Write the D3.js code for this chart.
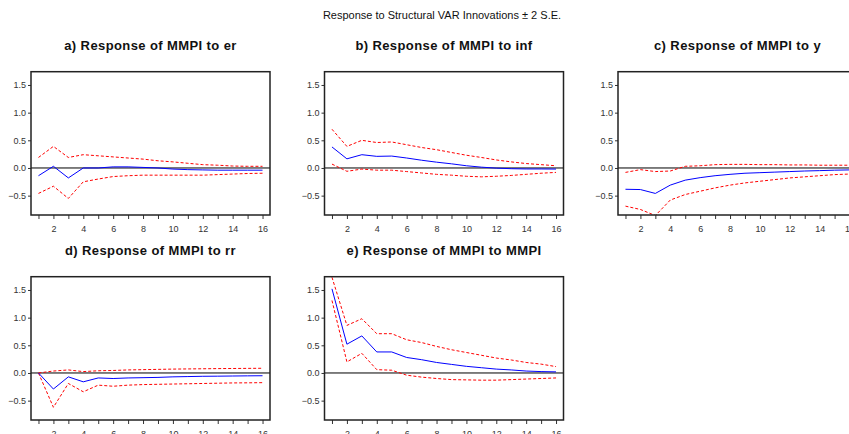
<!DOCTYPE html>
<html>
<head>
<meta charset="utf-8">
<script src="https://cdn.jsdelivr.net/npm/d3@7"></script>
<style>
    body { margin: 0; background: #fff; }
    svg { display: block; font-family: "Liberation Sans", Arial, sans-serif; }
    .tick text { fill: #333; font-size: 9px; }
    .tick line { stroke: #333; }
</style>
</head>
<body>
<svg id="chart" width="849" height="434"></svg>
<script>
const periods = d3.range(1, 17);
const yTicks = [-0.5, 0, 0.5, 1.0, 1.5];

const titles = [
    'a) Response of MMPI to er',
    'b) Response of MMPI to inf',
    'c) Response of MMPI to y',
    'd) Response of MMPI to rr',
    'e) Response of MMPI to MMPI'
];

// impulse responses (blue) and the +/- 2 S.E. bands (red dashed)
const erResp = [-0.14, 0.03, -0.18, 0.0, 0.0, 0.02, 0.02, 0.01, 0.0, -0.02, -0.03, -0.035, -0.04, -0.04, -0.04, -0.04];
const erUpper = [0.19, 0.39, 0.19, 0.24, 0.22, 0.2, 0.18, 0.16, 0.13, 0.11, 0.085, 0.06, 0.05, 0.035, 0.03, 0.03];
const erLower = [-0.46, -0.33, -0.55, -0.25, -0.2, -0.155, -0.14, -0.13, -0.13, -0.13, -0.13, -0.13, -0.12, -0.11, -0.1, -0.095];

const infResp = [0.38, 0.165, 0.24, 0.21, 0.215, 0.18, 0.14, 0.105, 0.075, 0.04, 0.015, -0.003, -0.013, -0.018, -0.018, -0.02];
const infUpper = [0.7, 0.39, 0.5, 0.46, 0.47, 0.42, 0.37, 0.33, 0.28, 0.23, 0.19, 0.145, 0.11, 0.08, 0.06, 0.04];
const infLower = [0.07, -0.06, -0.02, -0.04, -0.04, -0.065, -0.09, -0.115, -0.13, -0.15, -0.16, -0.15, -0.135, -0.115, -0.095, -0.08];

const yResp = [-0.385, -0.39, -0.46, -0.31, -0.22, -0.175, -0.14, -0.115, -0.095, -0.085, -0.075, -0.065, -0.055, -0.048, -0.04, -0.035];
const yUpper = [-0.08, -0.03, -0.065, -0.055, 0.03, 0.04, 0.06, 0.065, 0.065, 0.06, 0.06, 0.055, 0.055, 0.05, 0.05, 0.05];
const yLower = [-0.69, -0.75, -0.86, -0.58, -0.48, -0.42, -0.36, -0.31, -0.27, -0.24, -0.21, -0.18, -0.16, -0.14, -0.12, -0.11];

const rrResp = [0.0, -0.29, -0.07, -0.16, -0.09, -0.1, -0.09, -0.085, -0.08, -0.07, -0.065, -0.06, -0.058, -0.055, -0.052, -0.05];
const rrUpper = [0.0, 0.035, 0.055, 0.025, 0.04, 0.045, 0.055, 0.06, 0.065, 0.07, 0.073, 0.076, 0.079, 0.081, 0.083, 0.085];
const rrLower = [0.0, -0.62, -0.19, -0.34, -0.22, -0.24, -0.22, -0.21, -0.205, -0.2, -0.195, -0.19, -0.185, -0.18, -0.178, -0.175];

const mmpiResp = [1.52, 0.52, 0.67, 0.38, 0.38, 0.28, 0.24, 0.19, 0.155, 0.12, 0.095, 0.07, 0.055, 0.035, 0.025, 0.02];
const mmpiUpper = [1.73, 0.86, 0.98, 0.71, 0.71, 0.6, 0.55, 0.48, 0.42, 0.37, 0.32, 0.27, 0.235, 0.19, 0.16, 0.115];
const mmpiLower = [1.31, 0.2, 0.355, 0.06, 0.05, -0.04, -0.075, -0.1, -0.12, -0.125, -0.13, -0.13, -0.12, -0.11, -0.1, -0.09];

const panels = [
    { resp: erResp, upper: erUpper, lower: erLower },
    { resp: infResp, upper: infUpper, lower: infLower },
    { resp: yResp, upper: yUpper, lower: yLower },
    { resp: rrResp, upper: rrUpper, lower: rrLower },
    { resp: mmpiResp, upper: mmpiUpper, lower: mmpiLower }
];

const svg = d3.select('#chart');

const params = {
    colLeft: [31, 324.5, 618],
    rowTop: [71.7, 276.7],
    width: 239,
    height: 143.3
};

svg.append('text')
    .attr('x', 442)
    .attr('y', 19)
    .attr('text-anchor', 'middle')
    .attr('font-size', 11)
    .attr('fill', '#111')
    .text('Response to Structural VAR Innovations \u00b1 2 S.E.');

const x = d3.scaleLinear().domain([0.5, 16.5]).range([0, params.width]);
const y = d3.scaleLinear().domain([-0.85, 1.74]).range([params.height, 0]);

const line = d3.line()
    .x((d, i) => x(periods[i]))
    .y(d => y(d));

panels.forEach((p, k) => {
    const left = params.colLeft[k % 3];
    const top = params.rowTop[Math.floor(k / 3)];

    const g = svg.append('g')
        .attr('transform', `translate(${left},${top})`);

    g.append('text')
        .attr('x', params.width / 2)
        .attr('y', -22)
        .attr('text-anchor', 'middle')
        .attr('font-size', 13)
        .attr('font-weight', 'bold')
        .attr('letter-spacing', 0.4)
        .attr('fill', '#111')
        .text(titles[k]);

    g.append('clipPath')
        .attr('id', `clip${k}`)
        .append('rect')
        .attr('width', params.width)
        .attr('height', params.height);

    const yAxis = g.append('g')
        .call(d3.axisLeft(y).tickValues(yTicks).tickSize(3).tickPadding(2).tickFormat(d3.format('.1f')));
    yAxis.select('.domain').remove();

    const xAxis = g.append('g')
        .attr('transform', `translate(0,${params.height})`)
        .call(d3.axisBottom(x).tickValues(periods).tickSize(4).tickPadding(6.5)
            .tickFormat(d => d % 2 === 0 ? d : ''));
    xAxis.select('.domain').remove();

    const plot = g.append('g').attr('clip-path', `url(#clip${k})`);

    plot.append('line')
        .attr('x1', 0)
        .attr('x2', params.width)
        .attr('y1', y(0))
        .attr('y2', y(0))
        .attr('stroke', '#000')
        .attr('stroke-width', 1);

    [p.upper, p.lower].forEach(band => {
        plot.append('path')
            .datum(band)
            .attr('d', line)
            .attr('fill', 'none')
            .attr('stroke', '#ff0000')
            .attr('stroke-width', 1)
            .attr('stroke-dasharray', '3,2');
    });

    plot.append('path')
        .datum(p.resp)
        .attr('d', line)
        .attr('fill', 'none')
        .attr('stroke', '#0000ff')
        .attr('stroke-width', 1);

    g.append('rect')
        .attr('width', params.width)
        .attr('height', params.height)
        .attr('fill', 'none')
        .attr('stroke', '#222')
        .attr('stroke-width', 1.5);
});
</script>
</body>
</html>
